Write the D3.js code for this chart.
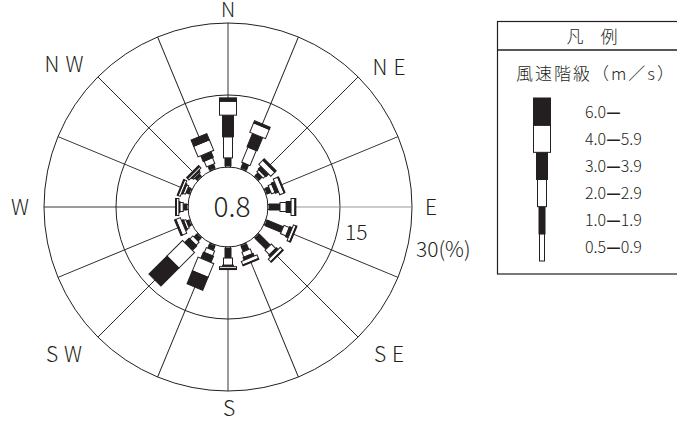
<!DOCTYPE html>
<html><head><meta charset="utf-8">
<script src="https://cdn.jsdelivr.net/npm/d3@7"></script>
<style>
html,body{margin:0;padding:0;background:#fff;}
svg{display:block;}
text{font-family:"Noto Sans CJK JP","Noto Sans",sans-serif;fill:#231f20;}
</style></head>
<body>
<svg id="c" width="677" height="427"></svg>
<script>
// ---- data ----
const directions = ["N","NNE","NE","ENE","E","ESE","SE","SSE","S","SSW","SW","WSW","W","WNW","NW","NNW"];
const speedClasses = ["0.5−0.9","1.0−1.9","2.0−2.9","3.0−3.9","4.0−5.9","6.0−"];
const s05 = [0.3,0.3,0.3,0.3,0.3,0.3,0.3,0.3,0.3,0.3,0.3,0.3,0.3,0.3,0.3,0.3];
const s10 = [1.6,1.1,0.8,0.8,2.2,3.6,3.2,1.2,2.0,0.9,0.8,0.5,0.7,0.6,0.5,0.8];
const s20 = [4.4,3.4,0.6,0.8,1.3,1.2,1.3,1.1,1.5,1.1,0.9,0.5,0.7,0.5,0.3,1.3];
const s30 = [4.5,3.0,0.8,0.7,1.0,0.6,0.5,0.6,0.3,1.4,1.3,0.4,0.2,0.3,0.3,1.3];
const s40 = [2.9,2.1,1.2,1.0,0.8,0.6,0.7,0.8,0.4,3.1,4.6,1.0,0.5,0.5,0.4,2.4];
const s60 = [0.7,0.5,0.4,0.2,0.2,0.2,0.2,0.2,0.2,2.9,5.3,0.3,0.2,0.2,0.3,1.4];
const calm = 0.8;
const ringTicks = [15, 30];
const compassLabels = ["N","NE","E","SE","S","SW","W","NW"];
const legendTitle = "凡　例";
const legendSubtitle = "風速階級（m／s）";
const legendRanges = [["0.5","0.9"],["1.0","1.9"],["2.0","2.9"],["3.0","3.9"],["4.0","5.9"],["6.0",""]];

// ---- layout ----
const series = [s05,s10,s20,s30,s40,s60];
const widths = [5,6,9,11,17,17];
const fills  = ["#fff","#231f20","#fff","#231f20","#fff","#231f20"];
const ink = "#231f20";
const cx = 228, cy = 207;
const r = d3.scaleLinear().domain([0,30]).range([40,184]);
const ang = d3.scalePoint().domain(directions).range([0,360-22.5]);

const svg = d3.select("#c");
const g = svg.append("g").attr("transform",`translate(${cx},${cy})`);

// rings
g.selectAll("circle.ring").data([0].concat(ringTicks)).join("circle")
  .attr("r",d=>r(d)).attr("fill","none").attr("stroke",ink).attr("stroke-width",1);

// spokes
g.selectAll("line.spoke").data(directions).join("line")
  .attr("transform",d=>`rotate(${ang(d)})`)
  .attr("x1",0).attr("x2",0).attr("y1",-r(0)).attr("y2",-r(30))
  .attr("stroke",d=>d==="E"?"#8a8a8a":ink).attr("stroke-width",0.9);

// bars
const stacked = directions.map((d,i)=>{
  let acc=0; const segs=[];
  series.forEach((s,k)=>{ segs.push({k,v0:acc,v1:acc+s[i]}); acc+=s[i]; });
  return {dir:d,segs};
});
const bg = g.selectAll("g.bar").data(stacked).join("g")
  .attr("transform",d=>`rotate(${ang(d.dir)})`);
bg.selectAll("rect").data(d=>d.segs).join("rect")
  .attr("x",s=>-widths[s.k]/2).attr("width",s=>widths[s.k])
  .attr("y",s=>-r(s.v1)).attr("height",s=>r(s.v1)-r(s.v0))
  .attr("fill",s=>fills[s.k]).attr("stroke",ink).attr("stroke-width",1);

// center value
g.append("text").attr("x",4).attr("y",10).attr("text-anchor","middle")
  .attr("font-size",28).attr("font-weight",300).text(calm.toFixed(1));

// ring labels
svg.append("text").attr("x",345).attr("y",240).attr("font-size",21).attr("font-weight",300).text(ringTicks[0]);
svg.append("text").attr("x",416).attr("y",257).attr("font-size",21).attr("font-weight",300).text(ringTicks[1]+"(%)");

// compass labels
const labPos = {N:[228,17],NE:[392,75],E:[431,215],SE:[392,362],S:[229,416],SW:[67,362],W:[20,215],NW:[67,72]};
svg.selectAll("text.dir").data(compassLabels).join("text")
  .attr("x",d=>labPos[d][0]).attr("y",d=>labPos[d][1])
  .attr("text-anchor","middle").attr("font-size",d=>d==="N"?20:21).attr("font-weight",300)
  .attr("letter-spacing",d=>d.length>1?6:0)
  .text(d=>d);

// legend
const L = svg.append("g");
L.append("rect").attr("x",497.5).attr("y",21.5).attr("width",200).attr("height",252.5)
  .attr("fill","#fff").attr("stroke",ink).attr("stroke-width",1.2);
L.append("line").attr("x1",497).attr("x2",677).attr("y1",50).attr("y2",50).attr("stroke",ink).attr("stroke-width",1.5);
L.append("text").attr("x",592).attr("y",43).attr("text-anchor","middle").attr("font-size",17).attr("font-weight",300).text(legendTitle);
L.append("text").attr("x",516).attr("y",80).attr("font-size",17).attr("font-weight",300)
  .attr("letter-spacing",2).text(legendSubtitle);

const ly = d3.scaleBand().domain(d3.range(6).reverse()).range([98,261]);
L.selectAll("rect.leg").data(d3.range(6)).join("rect")
  .attr("x",k=>542-widths[k]/2).attr("width",k=>widths[k])
  .attr("y",k=>ly(k)).attr("height",ly.bandwidth())
  .attr("fill",k=>fills[k]).attr("stroke",ink).attr("stroke-width",1);
const lt = L.selectAll("text.leg").data(d3.range(6)).join("text")
  .attr("x",585).attr("y",k=>ly(k)+ly.bandwidth()/2+6)
  .attr("font-size",16).attr("font-weight",300);
lt.append("tspan").text(k=>legendRanges[k][0]);
lt.append("tspan").attr("font-weight",700).text("—");
lt.append("tspan").text(k=>legendRanges[k][1]);
</script>
</body></html>
